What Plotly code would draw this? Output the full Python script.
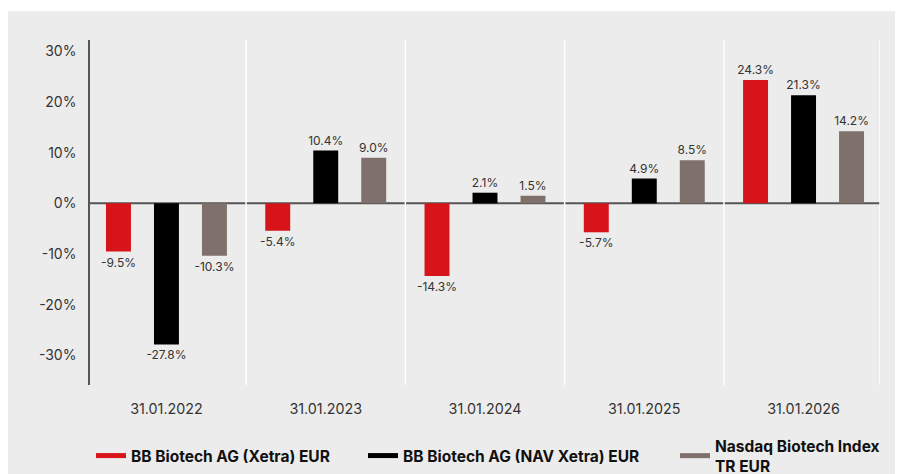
import plotly.graph_objects as go

categories = ["31.01.2022", "31.01.2023", "31.01.2024", "31.01.2025", "31.01.2026"]
series_names = ["BB Biotech AG (Xetra) EUR", "BB Biotech AG (NAV Xetra) EUR", "Nasdaq Biotech Index<br>TR EUR"]
xetra = [-9.5, -5.4, -14.3, -5.7, 24.3]
nav = [-27.8, 10.4, 2.1, 4.9, 21.3]
nasdaq = [-10.3, 9.0, 1.5, 8.5, 14.2]
colors = ["#D7141A", "#000000", "#7E716C"]
ytick_vals = [-30, -20, -10, 0, 10, 20, 30]
ytick_text = ["-30%", "-20%", "-10%", "0%", "10%", "20%", "30%"]

W, H = 911, 482
L, R, T, B = 82, 39, 32, 105
pw, ph = W - L - R, H - T - B
FONT = "Inter, Roboto, sans-serif"

def px_x(p):
    return (p - L) / pw

def px_y(p):
    return (H - B - p) / ph

fig = go.Figure()
for name, vals, col in zip(series_names, [xetra, nav, nasdaq], colors):
    fig.add_trace(go.Bar(
        x=categories, y=vals, name=name, marker_color=col, marker_line_width=0,
        text=[f"{v:.1f}%" for v in vals], textposition="outside", constraintext="none",
        textfont=dict(size=12, color="#333333", family=FONT),
        cliponaxis=False, showlegend=False,
    ))

legend_x = [83, 355, 667]
for i, (name, col) in enumerate(zip(series_names, colors)):
    lg = "legend" if i == 0 else f"legend{i+1}"
    fig.add_trace(go.Scatter(
        x=[None], y=[None], mode="lines", name=name,
        line=dict(color=col, width=5), legend=lg, showlegend=True,
    ))

legend_common = dict(
    yanchor="middle", y=px_y(448), xanchor="left",
    bgcolor="rgba(0,0,0,0)", borderwidth=0,
    font=dict(family=FONT, size=15.5, color="#111111", weight="bold"),
    orientation="h", valign="middle",
)
fig.update_layout(
    legend=dict(x=px_x(legend_x[0]), **legend_common),
    legend2=dict(x=px_x(legend_x[1]), **legend_common),
    legend3=dict(x=px_x(legend_x[2]), **legend_common),
)

shapes = [dict(type="rect", xref="paper", yref="paper",
               x0=px_x(-5), x1=px_x(W + 5), y0=px_y(3), y1=px_y(-5),
               fillcolor="#FFFFFF", line_width=0, layer="below")]
for sx in [0.5, 1.5, 2.5, 3.5, 4.48]:
    shapes.append(dict(type="line", xref="x", yref="paper", x0=sx, x1=sx, y0=0, y1=1,
                       line=dict(color="#FFFFFF", width=1.5), layer="above"))
shapes.append(dict(type="line", xref="paper", yref="y", x0=0, x1=1, y0=0, y1=0,
                   line=dict(color="#555555", width=2), layer="below"))

fig.update_layout(
    width=W, height=H,
    margin=dict(l=L, r=R, t=T, b=B, autoexpand=False),
    paper_bgcolor="#ECECEC", plot_bgcolor="rgba(0,0,0,0)",
    barmode="group", bargap=0.096, bargroupgap=0.48,
    font=dict(family=FONT, color="#333333"),
    shapes=shapes,
    xaxis=dict(range=[-0.48, 4.48], showgrid=False, zeroline=False, showline=False,
               ticks="", tickfont=dict(size=14.3, color="#333333"), ticklabelstandoff=14),
    yaxis=dict(range=[-35.8, 32.2], tickvals=ytick_vals, ticktext=ytick_text,
               showgrid=False, zeroline=False, showline=True, linecolor="#555555", linewidth=1.5,
               ticks="", tickfont=dict(size=14, color="#333333"), ticklabelstandoff=9),
)

fig.write_html("out.html")
